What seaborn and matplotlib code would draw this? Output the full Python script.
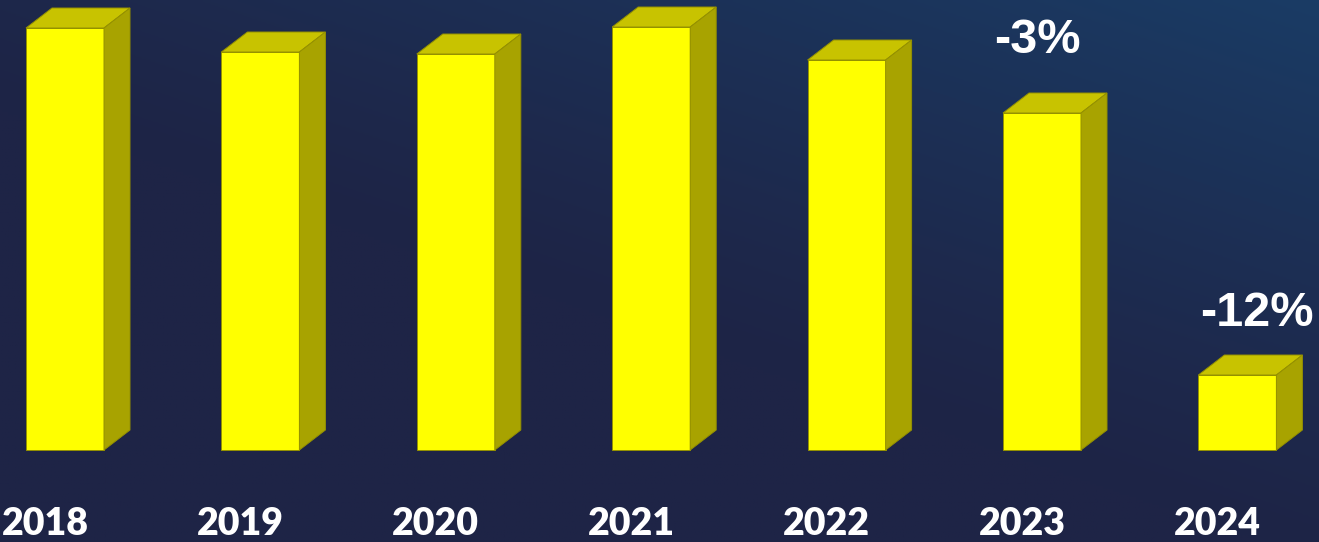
import numpy as np
import pandas as pd
import matplotlib
matplotlib.use("Agg")
import matplotlib.pyplot as plt
from matplotlib.patches import Polygon
import seaborn as sns

# Chart data
years = ["2018", "2019", "2020", "2021", "2022", "2023", "2024"]
values = [422, 398, 396, 423, 390, 337, 75]
change_years = ["2023", "2024"]
change_labels = ["-3%", "-12%"]

df = pd.DataFrame({"year": years, "value": values})

sns.set_theme(style="white")
plt.rcParams["font.family"] = ["Lato", "DejaVu Sans"]

W, H = 1319, 542
fig = plt.figure(figsize=(W / 100, H / 100), dpi=100)

# Background: dark navy, turning bluer toward the upper right
bg = fig.add_axes([0, 0, 1, 1])
gx, gy = np.meshgrid(np.linspace(0, 1, 400), np.linspace(0, 1, 200))
t = np.clip(gx * 0.75 + gy * 0.9 - 0.72, 0, 1) ** 1.2
c0 = np.array([0x1e, 0x24, 0x46]) / 255
c1 = np.array([0x1a, 0x3e, 0x68]) / 255
img = c0[None, None, :] * (1 - t[..., None]) + c1[None, None, :] * t[..., None]
bg.imshow(img, origin="lower", extent=[0, 1, 0, 1], aspect="auto")
bg.set_axis_off()

ax = fig.add_axes([0, 0, 1, 1])
ax.set_facecolor("none")

front = "#ffff00"
top_c = "#c8c300"
side_c = "#a8a300"
edge_c = "#959100"
width = 0.4

step = 195.4
sns.barplot(data=df, x="year", y="value", width=78 / step, color=front,
            saturation=1, edgecolor=edge_c, linewidth=0.7, ax=ax, zorder=3)

# Pixel-aligned data limits
ax.set_xlim(-65 / step, (W - 65) / step)
ax.set_ylim(-92, 450)
ax.set_axis_off()

dx = 26 / step   # depth offset along x
dy = 20          # depth offset along y

for p in ax.patches:
    x0 = p.get_x()
    x1 = x0 + p.get_width()
    h = p.get_height()
    top = Polygon([(x0, h), (x1, h), (x1 + dx, h + dy), (x0 + dx, h + dy)],
                  closed=True, facecolor=top_c, edgecolor=edge_c, lw=0.7, zorder=3)
    side = Polygon([(x1, 0), (x1 + dx, dy), (x1 + dx, h + dy), (x1, h)],
                   closed=True, facecolor=side_c, edgecolor=edge_c, lw=0.7, zorder=3)
    ax.add_patch(top)
    ax.add_patch(side)

# Year labels under the bars
for i, yr in enumerate(years):
    ax.text(i - 20 / step, -85, yr, ha="center", va="baseline",
            color="white", fontsize=27, fontweight="heavy",
            family=["Lato", "DejaVu Sans"])

# Change labels above the last bars
nudge = {"2023": (-5 / step, 60), "2024": (19 / step, 49)}
for yr, lab in zip(change_years, change_labels):
    i = years.index(yr)
    v = values[i]
    ox, oy = nudge[yr]
    ax.text(i + ox, v + oy, lab, ha="center", va="baseline",
            color="white", fontsize=35, fontweight="bold",
            family=["Liberation Sans", "DejaVu Sans"])

fig.savefig("out.png", dpi=100)
